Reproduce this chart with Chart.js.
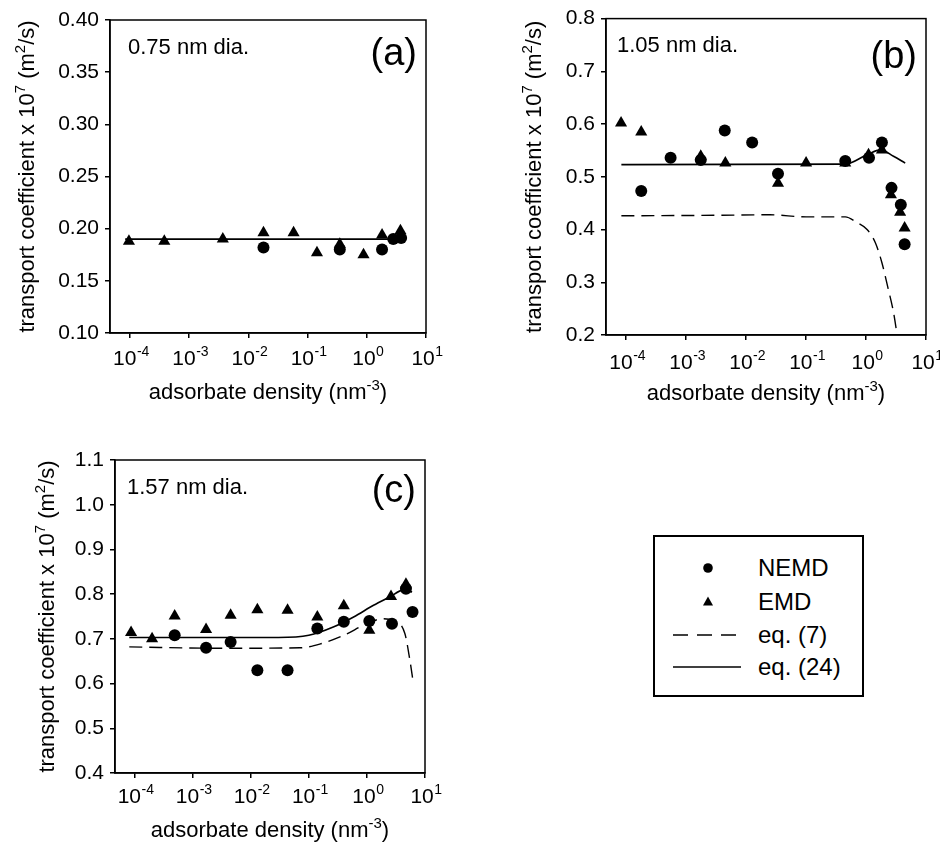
<!DOCTYPE html>
<html>
<head>
<meta charset="utf-8">
<script src="https://cdn.jsdelivr.net/npm/chart.js@4.4.1/dist/chart.umd.min.js"></script>
<style>
  body { margin: 0; background: #fff; }
  #wrap { position: relative; width: 940px; height: 846px; background: #fff; }
  canvas { position: absolute; }
  #legend {
    position: absolute; left: 653px; top: 535px; width: 207px; height: 158px;
    border: 2px solid #000; font-family: 'Liberation Sans', Arial, sans-serif; font-size: 24px;
  }
  #legend .row { position: absolute; left: 0; height: 30px; width: 100%; }
  #legend svg { position: absolute; left: 16px; top: 0; }
  #legend span { position: absolute; left: 103px; top: 1px; line-height: 28px; }
</style>
</head>
<body>
<div id="wrap">
  <canvas id="chartA" width="470" height="420" style="left:0;top:0"></canvas>
  <canvas id="chartB" width="470" height="420" style="left:470px;top:0"></canvas>
  <canvas id="chartC" width="470" height="426" style="left:0;top:420px"></canvas>
  <div id="legend"></div>
</div>
<script>
// x axis (shared): adsorbate density, decades -> label "10" with exponent
var xTicks = [1e-4, 1e-3, 1e-2, 1e-1, 1e0, 1e1];
var xTickExp = ['-4', '-3', '-2', '-1', '0', '1'];

// axis titles, split in [text, superscript?] pieces
var xTitle = [['adsorbate density (nm', false], ['-3', true], [')', false]];
var yTitle = [['transport coefficient x 10', false], ['7', true], [' (m', false], ['2', true], ['/s)', false]];

// panel (a) 0.75 nm
var aNemdX = [0.018, 0.35, 1.81, 2.8, 3.8];
var aNemdY = [0.182, 0.180, 0.180, 0.190, 0.191];
var aEmdX = [9.6e-5, 3.8e-4, 3.7e-3, 0.018, 0.058, 0.144, 0.35, 0.88, 1.81, 3.7];
var aEmdY = [0.188, 0.188, 0.190, 0.196, 0.196, 0.177, 0.185, 0.175, 0.194, 0.198];
var aEq24X = [8.3e-5, 3.1];
var aEq24Y = [0.190, 0.190];

// panel (b) 1.05 nm
var bNemdX = [1.78e-4, 5.5e-4, 1.75e-3, 4.4e-3, 0.0126, 0.034, 0.45, 1.12, 1.84, 2.66, 3.8, 4.4];
var bNemdY = [0.473, 0.536, 0.532, 0.588, 0.565, 0.506, 0.530, 0.536, 0.565, 0.479, 0.447, 0.372];
var bEmdX = [8.2e-5, 1.78e-4, 1.75e-3, 4.5e-3, 0.034, 0.10, 0.45, 1.1, 1.84, 2.6, 3.7, 4.4];
var bEmdY = [0.602, 0.585, 0.539, 0.526, 0.488, 0.526, 0.526, 0.542, 0.551, 0.466, 0.433, 0.403];
var bEq7X = [8.3e-5, 0.003, 0.025, 0.1, 0.45, 0.71, 1.04, 1.43, 1.84, 2.28, 2.87, 3.3];
var bEq7Y = [0.426, 0.427, 0.428, 0.424, 0.424, 0.413, 0.400, 0.375, 0.337, 0.293, 0.243, 0.200];
var bEq24X = [8.3e-5, 0.45, 1.04, 1.73, 2.87, 4.5];
var bEq24Y = [0.523, 0.524, 0.542, 0.551, 0.539, 0.526];

// panel (c) 1.57 nm
var cNemdX = [4.9e-4, 1.7e-3, 4.5e-3, 0.013, 0.043, 0.14, 0.40, 1.1, 2.7, 4.7, 6.1];
var cNemdY = [0.708, 0.680, 0.693, 0.630, 0.630, 0.723, 0.738, 0.740, 0.734, 0.812, 0.760];
var cEmdX = [8.7e-5, 2.0e-4, 4.9e-4, 1.7e-3, 4.5e-3, 0.013, 0.043, 0.14, 0.40, 1.1, 2.6, 4.7];
var cEmdY = [0.714, 0.700, 0.751, 0.721, 0.753, 0.765, 0.764, 0.749, 0.774, 0.719, 0.795, 0.822];
var cEq7X = [8.1e-5, 0.003, 0.07, 0.16, 0.40, 1.0, 1.9, 2.85, 4.5, 5.5, 6.2];
var cEq7Y = [0.682, 0.679, 0.680, 0.689, 0.708, 0.734, 0.745, 0.741, 0.712, 0.652, 0.607];
var cEq24X = [8.1e-5, 0.03, 0.1, 0.27, 0.59, 1.3, 2.5, 4.2, 6.0];
var cEq24Y = [0.703, 0.703, 0.708, 0.727, 0.749, 0.775, 0.794, 0.809, 0.805];

var FONT = "'Liberation Sans', Arial, sans-serif";

function pts(xs, ys) { return xs.map((x, i) => ({ x: x, y: ys[i] })); }

// draws pieces centred on (0,0) of the current transform
function drawPieces(ctx, pieces, size, supSize) {
  let w = 0;
  pieces.forEach(p => { ctx.font = (p[1] ? supSize : size) + 'px ' + FONT; w += ctx.measureText(p[0]).width; });
  let x = -w / 2;
  pieces.forEach(p => {
    ctx.font = (p[1] ? supSize : size) + 'px ' + FONT;
    ctx.fillText(p[0], x, p[1] ? -size * 0.42 : 0);
    x += ctx.measureText(p[0]).width;
  });
}

// frame around plot area, x tick labels and titles with superscripts, panel texts
var framePlugin = {
  id: 'frame',
  afterDraw(chart, args, opts) {
    const ctx = chart.ctx, a = chart.chartArea, xs = chart.scales.x;
    ctx.save();
    ctx.strokeStyle = '#000';
    ctx.lineWidth = 1.5;
    ctx.strokeRect(a.left, a.top, a.right - a.left, a.bottom - a.top);
    ctx.fillStyle = '#000';
    ctx.textBaseline = 'alphabetic';
    ctx.textAlign = 'left';
    xTicks.forEach((v, i) => {
      const px = xs.getPixelForValue(v);
      ctx.font = '21px ' + FONT;
      const wb = ctx.measureText('10').width;
      ctx.font = '14px ' + FONT;
      const we = ctx.measureText(xTickExp[i]).width;
      const x0 = px - (wb + we) / 2 + 1;
      const base = a.bottom + opts.tickBase;
      ctx.font = '21px ' + FONT;
      ctx.fillText('10', x0, base);
      ctx.font = '14px ' + FONT;
      ctx.fillText(xTickExp[i], x0 + wb + 0.5, base - 9);
    });
    // x title
    ctx.save();
    ctx.translate((a.left + a.right) / 2, opts.xTitleBase);
    drawPieces(ctx, xTitle, 22, 15);
    ctx.restore();
    // y title
    ctx.save();
    ctx.translate(opts.yTitleBase, (a.top + a.bottom) / 2);
    ctx.rotate(-Math.PI / 2);
    drawPieces(ctx, yTitle, 22, 15);
    ctx.restore();

    ctx.textBaseline = 'middle';
    ctx.font = '22px ' + FONT;
    ctx.fillText(opts.dia, a.left + opts.diaDx, a.top + opts.diaDy);
    ctx.font = '38px ' + FONT;
    ctx.textAlign = 'right';
    ctx.fillText(opts.tag, a.right - 9, a.top + opts.tagDy);
    ctx.restore();
  }
};

function makeChart(id, cfg) {
  const datasets = [
    { label: 'NEMD', data: pts(cfg.nemdX, cfg.nemdY), pointStyle: 'circle', pointRadius: 6,
      backgroundColor: '#000', borderColor: '#000', borderWidth: 0, showLine: false },
    { label: 'EMD', data: pts(cfg.emdX, cfg.emdY), pointStyle: 'triangle', pointRadius: 7,
      backgroundColor: '#000', borderColor: '#000', borderWidth: 0, showLine: false }
  ];
  if (cfg.eq24X) datasets.push({ label: 'eq. (24)', data: pts(cfg.eq24X, cfg.eq24Y), showLine: true,
      pointRadius: 0, borderColor: '#000', borderWidth: 1.6, cubicInterpolationMode: 'monotone' });
  if (cfg.eq7X) datasets.push({ label: 'eq. (7)', data: pts(cfg.eq7X, cfg.eq7Y), showLine: true,
      pointRadius: 0, borderColor: '#000', borderWidth: 1.4, borderDash: [13, 7], cubicInterpolationMode: 'monotone' });

  return new Chart(document.getElementById(id), {
    type: 'scatter',
    data: { datasets: datasets },
    options: {
      responsive: false,
      animation: false,
      layout: { autoPadding: false, padding: { left: 0, top: cfg.top, right: cfg.right, bottom: 0 } },
      plugins: {
        legend: { display: false },
        tooltip: { enabled: false },
        frame: { dia: cfg.dia, diaDx: cfg.diaDx, diaDy: cfg.diaDy, tag: cfg.tag, tagDy: cfg.tagDy,
                 tickBase: cfg.tickBase, xTitleBase: cfg.xTitleBase, yTitleBase: cfg.yTitleBase }
      },
      scales: {
        x: {
          type: 'logarithmic', min: 4.6e-5, max: 10,
          afterBuildTicks: s => { s.ticks = xTicks.map(v => ({ value: v })); },
          afterFit: s => { s.height = cfg.xH; },
          ticks: { display: false },
          grid: { drawOnChartArea: false, drawTicks: true, tickLength: 5, color: '#000', lineWidth: 1.5 },
          border: { display: true, color: '#000', width: 1.5 }
        },
        y: {
          min: cfg.yMin, max: cfg.yMax,
          afterFit: s => { s.width = cfg.yW; },
          ticks: { stepSize: cfg.yStep, color: '#000', font: { family: FONT, size: 21 }, padding: 6,
                   callback: v => v.toFixed(cfg.yDec) },
          grid: { drawOnChartArea: false, drawTicks: true, tickLength: 5, color: '#000', lineWidth: 1.5 },
          border: { display: true, color: '#000', width: 1.5 }
        }
      }
    },
    plugins: [framePlugin]
  });
}

makeChart('chartA', {
  nemdX: aNemdX, nemdY: aNemdY, emdX: aEmdX, emdY: aEmdY, eq24X: aEq24X, eq24Y: aEq24Y,
  yMin: 0.10, yMax: 0.40, yStep: 0.05, yDec: 2,
  top: 20, right: 44, xH: 87, yW: 110, tickBase: 32, xTitleBase: 399, yTitleBase: 34,
  dia: '0.75 nm dia.', diaDx: 18, diaDy: 28, tag: '(a)', tagDy: 35
});
makeChart('chartB', {
  nemdX: bNemdX, nemdY: bNemdY, emdX: bEmdX, emdY: bEmdY, eq24X: bEq24X, eq24Y: bEq24Y, eq7X: bEq7X, eq7Y: bEq7Y,
  yMin: 0.2, yMax: 0.8, yStep: 0.1, yDec: 1,
  top: 18, right: 14, xH: 85, yW: 136, tickBase: 34, xTitleBase: 400, yTitleBase: 71,
  dia: '1.05 nm dia.', diaDx: 11, diaDy: 27, tag: '(b)', tagDy: 39
});
makeChart('chartC', {
  nemdX: cNemdX, nemdY: cNemdY, emdX: cEmdX, emdY: cEmdY, eq24X: cEq24X, eq24Y: cEq24Y, eq7X: cEq7X, eq7Y: cEq7Y,
  yMin: 0.4, yMax: 1.1, yStep: 0.1, yDec: 1,
  top: 40, right: 45, xH: 73, yW: 115, tickBase: 30, xTitleBase: 417, yTitleBase: 54,
  dia: '1.57 nm dia.', diaDx: 12, diaDy: 28, tag: '(c)', tagDy: 32
});

// legend box
var legendItems = ['NEMD', 'EMD', 'eq. (7)', 'eq. (24)'];
var legendSymbols = [
  '<circle cx="37" cy="15" r="4.8" fill="#000"/>',
  '<polygon points="37,9.5 42,18.5 32,18.5" fill="#000"/>',
  '<line x1="2" y1="15" x2="66" y2="15" stroke="#000" stroke-width="1.5" stroke-dasharray="15 9"/>',
  '<line x1="2" y1="15" x2="70" y2="15" stroke="#000" stroke-width="1.5"/>'
];
var legendTops = [16, 50, 83, 115];
var lg = document.getElementById('legend');
legendItems.forEach((t, i) => {
  const row = document.createElement('div');
  row.className = 'row';
  row.style.top = legendTops[i] + 'px';
  row.innerHTML = '<svg width="74" height="30">' + legendSymbols[i] + '</svg><span>' + t + '</span>';
  lg.appendChild(row);
});
</script>
</body>
</html>
